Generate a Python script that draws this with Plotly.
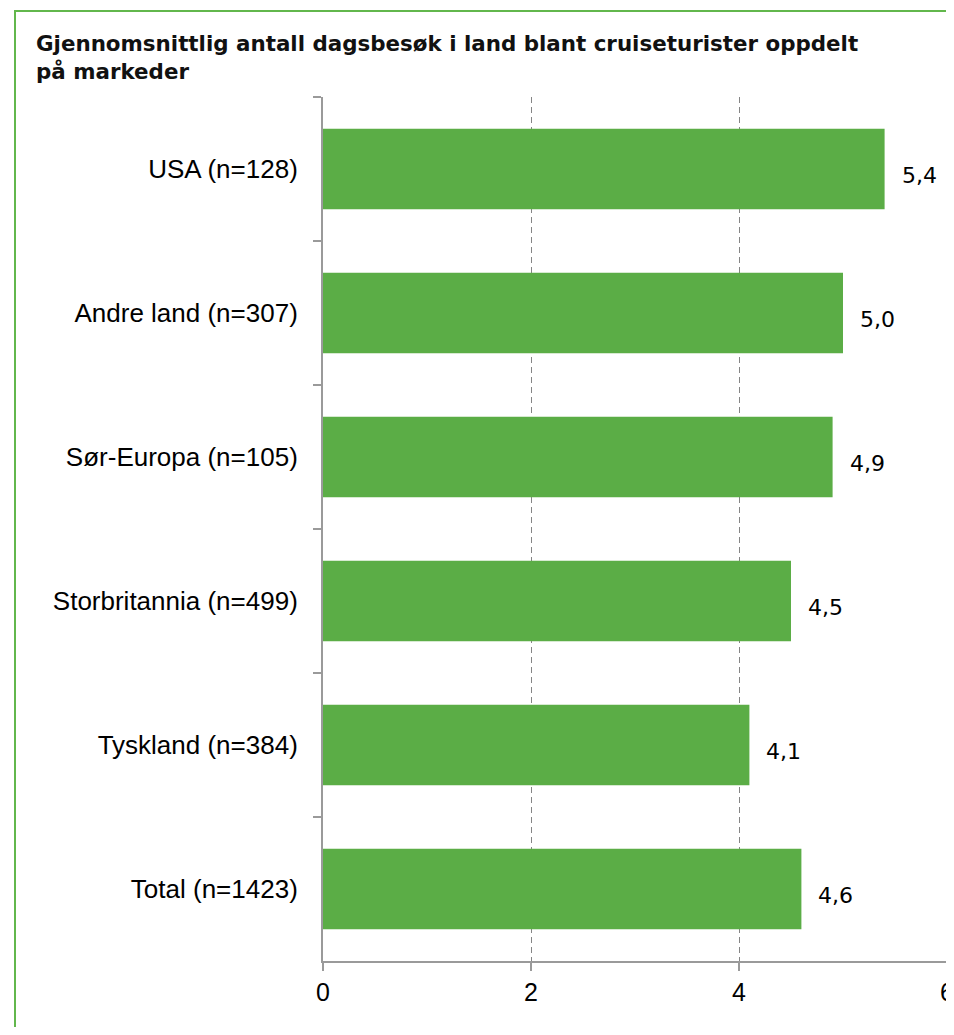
import plotly.graph_objects as go

categories = ["USA (n=128)", "Andre land (n=307)", "Sør-Europa (n=105)",
              "Storbritannia (n=499)", "Tyskland (n=384)", "Total (n=1423)"]
values = [5.4, 5.0, 4.9, 4.5, 4.1, 4.6]
x_ticks = [0, 2, 4, 6]
title_text = "Gjennomsnittlig antall dagsbesøk i land blant cruiseturister oppdelt<br>på markeder"

# page body has an 8px default margin; size the figure so the page does not scroll
OFF = 8
W, H = 954 - OFF, 1035 - 2 * OFF
L, R, T, B = 323 - OFF, W - (947 - OFF), 97 - OFF, H - (961 - OFF)
pw, ph = W - L - R, H - T - B

bar_color = "#5BAD46"
axis_color = "#9a9a9a"

fig = go.Figure()
fig.add_trace(go.Bar(
    x=values, y=categories, orientation="h",
    marker=dict(color=bar_color, line=dict(width=0)),
    hoverinfo="skip",
))

for c, v in zip(categories, values):
    fig.add_annotation(
        x=v, y=c, xref="x", yref="y",
        text=f"{v:.1f}".replace(".", ","),
        showarrow=False, xanchor="left", yanchor="middle",
        xshift=15, yshift=-6,
        font=dict(family="DejaVu Sans", size=22, color="#000000"),
    )

def px_x(p):
    return (p - OFF - L) / pw

def px_y(p):
    return (H - B - (p - OFF)) / ph

fig.add_shape(type="rect", xref="paper", yref="paper",
              x0=px_x(15), x1=px_x(1000), y0=px_y(1100), y1=px_y(11),
              line=dict(color="#62B74C", width=2), fillcolor="rgba(0,0,0,0)",
              layer="below")
# gridline at the right edge of the range
fig.add_shape(type="line", xref="x", yref="paper",
              x0=x_ticks[-1], x1=x_ticks[-1], y0=0, y1=1,
              line=dict(color="#858585", width=1, dash="6px,4px"), layer="below")

fig.update_layout(
    width=W, height=H,
    margin=dict(l=L, r=R, t=T, b=B, autoexpand=False),
    paper_bgcolor="white", plot_bgcolor="white",
    showlegend=False,
    bargap=0.44,
    title=dict(text=title_text, xref="container", yref="container",
               x=(36 - OFF) / W, xanchor="left", y=1 - (51 - OFF) / H, yanchor="top",
               font=dict(family="DejaVu Sans", size=21.4, color="#111111", weight="bold")),
    font=dict(family="Liberation Sans", size=25, color="#000000"),
)

fig.update_xaxes(
    range=[0, 6], tickvals=x_ticks, ticktext=[str(t) for t in x_ticks],
    showgrid=True, gridcolor="#858585", griddash="6px,4px", gridwidth=1,
    zeroline=False, showline=True, linecolor=axis_color, linewidth=2,
    ticks="outside", ticklen=8, tickcolor=axis_color, tickwidth=2,
    tickfont=dict(family="Liberation Sans", size=25, color="#000000"),
    automargin=False, fixedrange=True,
)
fig.update_yaxes(
    autorange="reversed", showgrid=False, zeroline=False,
    showline=True, linecolor=axis_color, linewidth=2,
    ticks="outside", tickson="boundaries", ticklen=8, tickcolor=axis_color, tickwidth=2,
    ticklabelstandoff=18,
    tickfont=dict(family="Liberation Sans", size=26, color="#000000"),
    automargin=False, fixedrange=True,
)

fig.write_html("out.html")
